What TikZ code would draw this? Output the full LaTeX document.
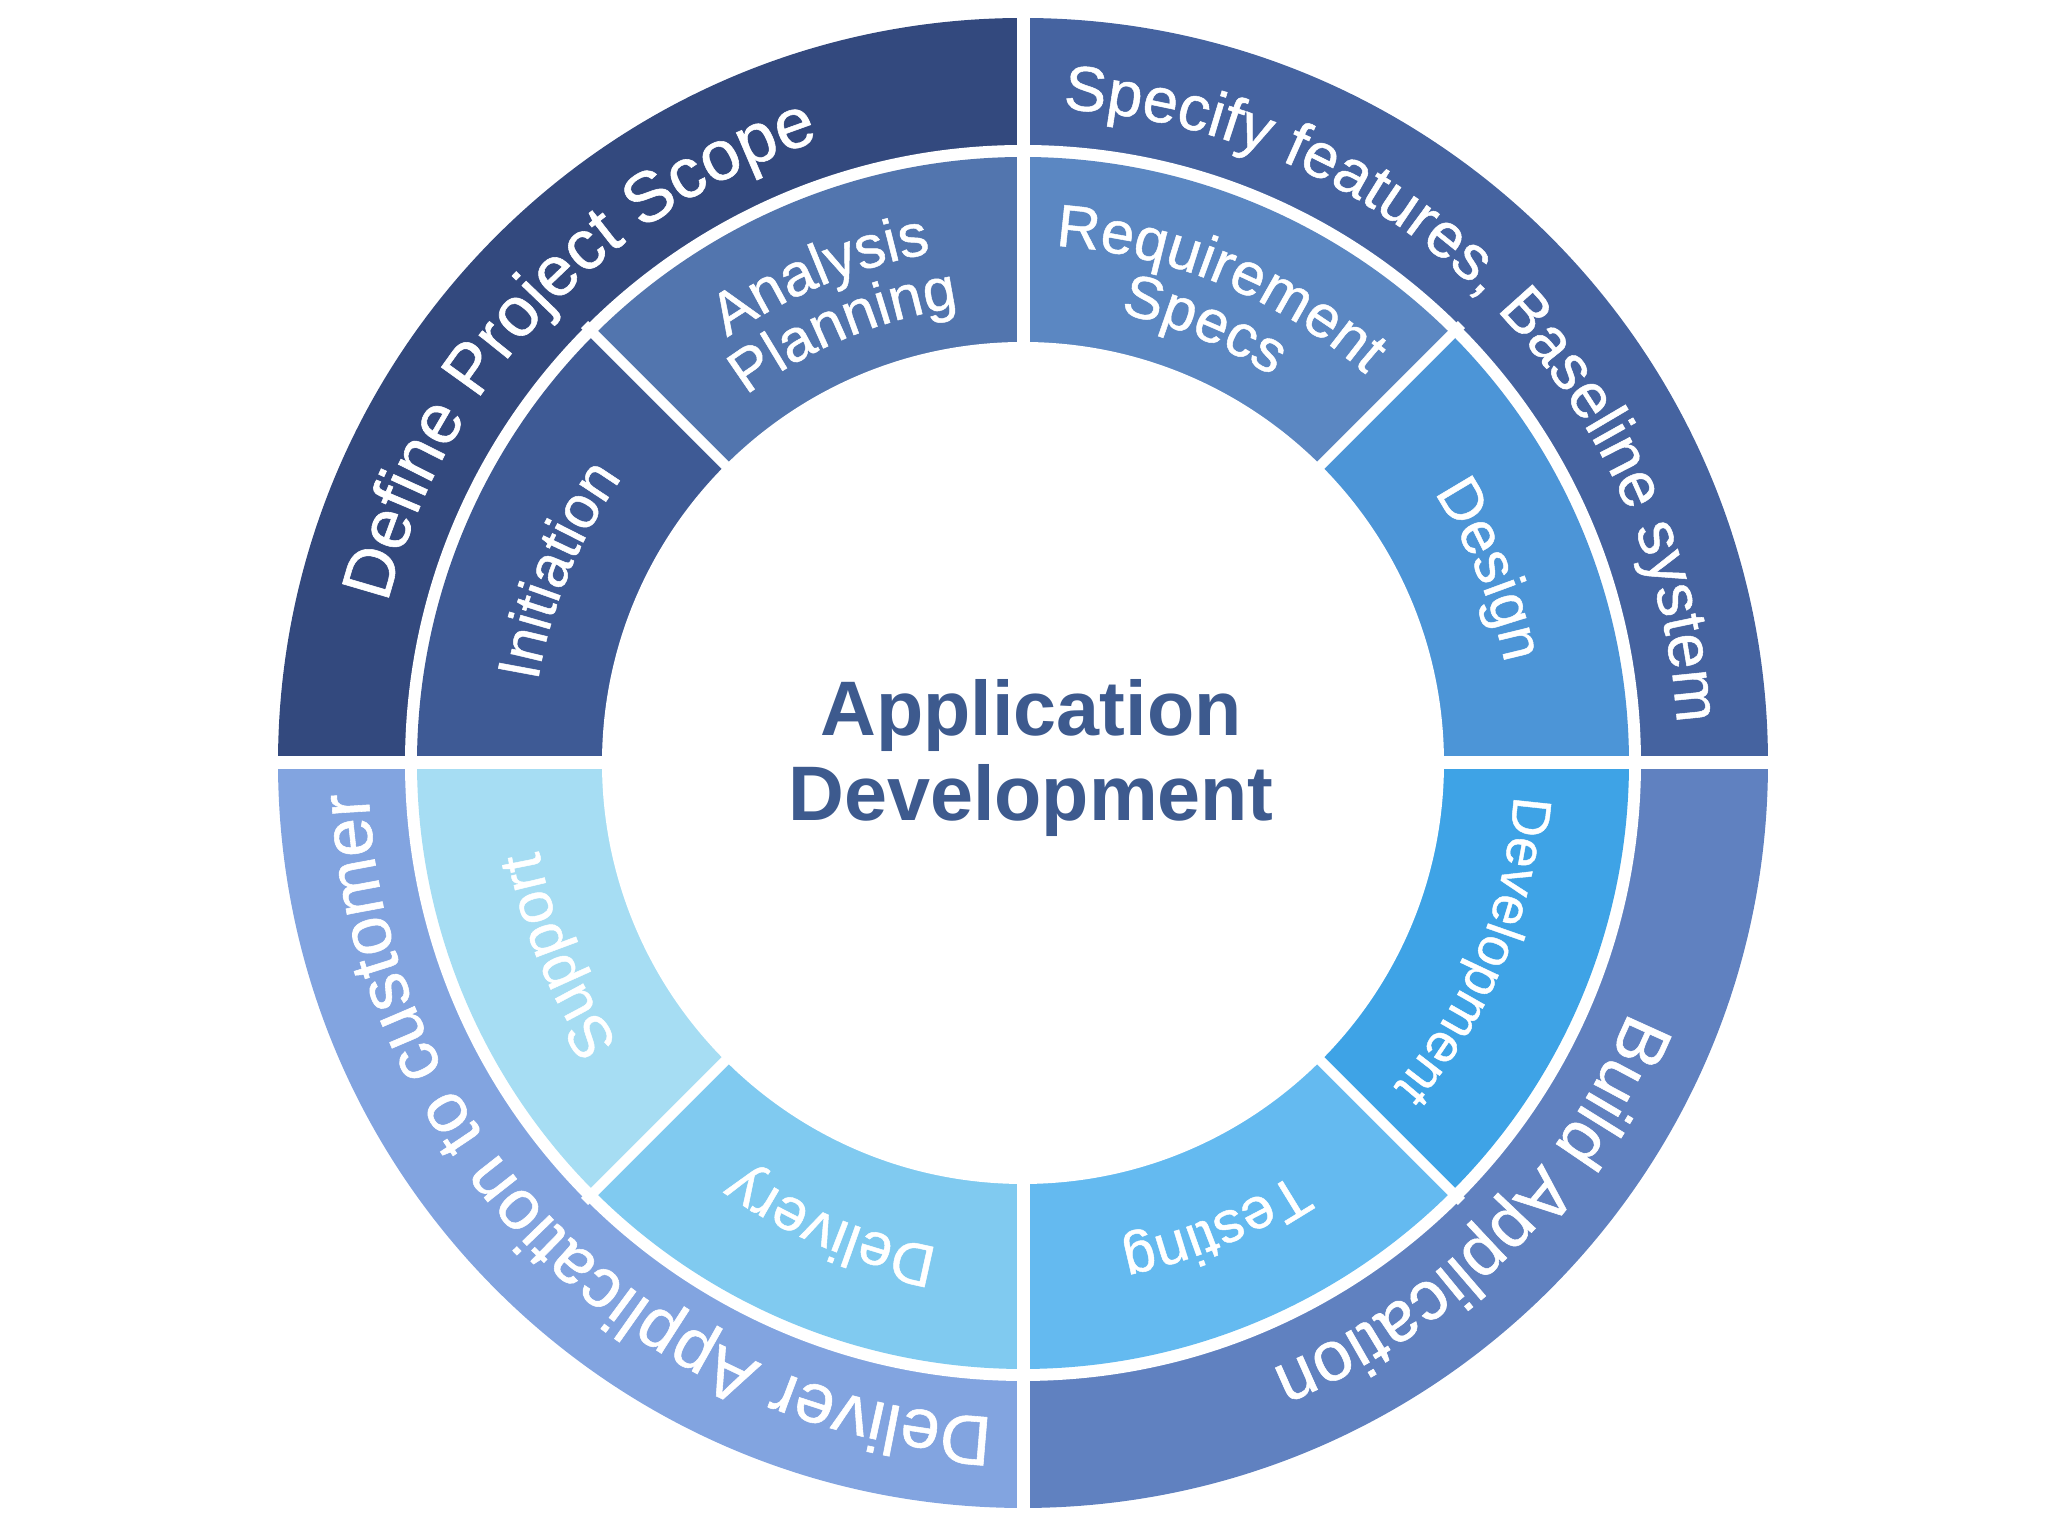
\documentclass[tikz,border=0pt]{standalone}
\usepackage{fontspec}
\setmainfont{Liberation Sans}
\newfontfamily\adringfont[FakeBold=0.8]{Liberation Sans}
\usetikzlibrary{decorations.text}
\definecolor{adscope}{HTML}{33497E}
\definecolor{adspec}{HTML}{4563A0}
\definecolor{adbuild}{HTML}{6081C0}
\definecolor{addeliver}{HTML}{82A4E0}
\definecolor{adinit}{HTML}{3E5A95}
\definecolor{adanalysis}{HTML}{5275AE}
\definecolor{adreq}{HTML}{5B87C2}
\definecolor{addesign}{HTML}{4C95D7}
\definecolor{addevel}{HTML}{3EA3E6}
\definecolor{adtest}{HTML}{64BAF0}
\definecolor{addelivery}{HTML}{80CAF0}
\definecolor{adsupport}{HTML}{A6DDF3}
\definecolor{adtitle}{HTML}{3D5A8E}
\tikzset{
  gapline/.style={draw=white, line width=1.3mm},
  thingap/.style={draw=white, line width=1mm},
  outtext/.style 2 args={decorate, decoration={text along path, text align=center, text color=white,
    text={|\adringfont\fontsize{#1}{#1}\selectfont|#2}}},
  intext/.style 2 args={decorate, decoration={text along path, text align=center, text color=white,
    text={|\adringfont\fontsize{#1}{#1}\selectfont|#2}}},
  hubtitle/.style={font=\bfseries\fontsize{22}{24}\selectfont, text=adtitle, align=center},
}
\begin{document}
\begin{tikzpicture}
  \useasboundingbox (0,0) rectangle (20.48,15.36);
  \coordinate (c) at (10.23,7.73);

  % outer ring
  \fill[adscope] (c) -- ++(90:7.45) arc[start angle=90, end angle=180, radius=7.45] -- cycle;
  \fill[adspec] (c) -- ++(0:7.45) arc[start angle=0, end angle=90, radius=7.45] -- cycle;
  \fill[adbuild] (c) -- ++(-90:7.45) arc[start angle=-90, end angle=0, radius=7.45] -- cycle;
  \fill[addeliver] (c) -- ++(180:7.45) arc[start angle=180, end angle=270, radius=7.45] -- cycle;
  \fill[white] (c) circle[radius=6.18];

  % inner ring
  \fill[adinit] (c) -- ++(135:6.06) arc[start angle=135, end angle=180, radius=6.06] -- cycle;
  \fill[adanalysis] (c) -- ++(90:6.06) arc[start angle=90, end angle=135, radius=6.06] -- cycle;
  \fill[adreq] (c) -- ++(45:6.06) arc[start angle=45, end angle=90, radius=6.06] -- cycle;
  \fill[addesign] (c) -- ++(0:6.06) arc[start angle=0, end angle=45, radius=6.06] -- cycle;
  \fill[addevel] (c) -- ++(-45:6.06) arc[start angle=-45, end angle=0, radius=6.06] -- cycle;
  \fill[adtest] (c) -- ++(-90:6.06) arc[start angle=-90, end angle=-45, radius=6.06] -- cycle;
  \fill[addelivery] (c) -- ++(-135:6.06) arc[start angle=-135, end angle=-90, radius=6.06] -- cycle;
  \fill[adsupport] (c) -- ++(180:6.06) arc[start angle=180, end angle=225, radius=6.06] -- cycle;

  % white gaps
  \draw[gapline] (c) ++(-7.6,0) -- ++(15.2,0);
  \draw[gapline] (c) ++(0,-7.6) -- ++(0,15.2);
  \draw[thingap] (c) -- ++(45:6.2);
  \draw[thingap] (c) -- ++(135:6.2);
  \draw[thingap] (c) -- ++(-45:6.2);
  \draw[thingap] (c) -- ++(-135:6.2);
  \fill[white] (c) circle[radius=4.21];

  % outer labels
  \path[outtext={20}{Define Project Scope}] (c) ++(182:6.55) arc[start angle=182, end angle=92, radius=6.55];
  \path[outtext={18}{Specify features, Baseline system}] (c) ++(90:6.55) arc[start angle=90, end angle=0, radius=6.55];
  \path[outtext={20}{Build Application}] (c) ++(0:6.55) arc[start angle=0, end angle=-90, radius=6.55];
  \path[outtext={20}{Deliver Application to customer}] (c) ++(-90:6.55) arc[start angle=-90, end angle=-180, radius=6.55];

  % inner labels
  \path[intext={17}{Initiation}] (c) ++(180:4.92) arc[start angle=180, end angle=135, radius=4.92];
  \path[intext={17}{Analysis}] (c) ++(135:5.18) arc[start angle=135, end angle=90, radius=5.18];
  \path[intext={17}{Planning}] (c) ++(135:4.6) arc[start angle=135, end angle=90, radius=4.6];
  \path[intext={17}{Requirement}] (c) ++(90:5.18) arc[start angle=90, end angle=45, radius=5.18];
  \path[intext={17}{Specs}] (c) ++(90:4.6) arc[start angle=90, end angle=45, radius=4.6];
  \path[intext={17}{Design}] (c) ++(45:4.92) arc[start angle=45, end angle=0, radius=4.92];
  \path[intext={15.5}{Development}] (c) ++(0:4.92) arc[start angle=0, end angle=-45, radius=4.92];
  \path[intext={16.5}{Testing}] (c) ++(-45:4.92) arc[start angle=-45, end angle=-90, radius=4.92];
  \path[intext={17}{Delivery}] (c) ++(-90:4.92) arc[start angle=-90, end angle=-135, radius=4.92];
  \path[intext={17}{Support}] (c) ++(-135:4.92) arc[start angle=-135, end angle=-180, radius=4.92];

  \node[hubtitle] (apptitle) at ([shift={(0.08,0.05)}]c) {Application\\Development};
\end{tikzpicture}
\end{document}
